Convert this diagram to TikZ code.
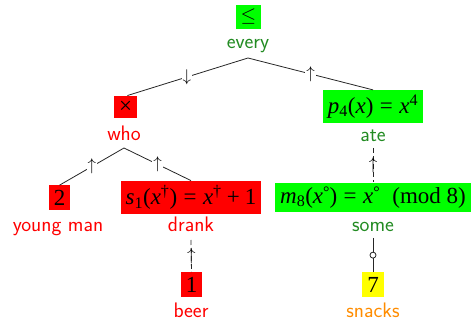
\documentclass[tikz,border=0pt]{standalone}
\usepackage{fix-cm}
\usepackage{fontspec}
\newfontfamily\termfont{Liberation Serif}

% font sizes for the boxed terms, the word labels and the polarity arrows
\newcommand\dgmterm{\termfont\fontsize{23}{27}\selectfont}
\newcommand\dgmrel{\fontsize{20}{24}\selectfont}
\newcommand\dgmword{\sffamily\fontsize{21}{25}\selectfont}
\newcommand\dgmarrow{\fontsize{17}{20}\selectfont}

% helpers for setting the formulas in the term font
\newcommand\vi[1]{\textit{#1}}
\newcommand\lo[1]{\textsubscript{#1}}
\newcommand\hi[1]{\textsuperscript{#1}}
\newcommand\ring{\raisebox{0.22em}{\fontsize{16}{16}\selectfont °}}
\newcommand\relsp{\hspace{0.28em}}
\newcommand\binsp{\hspace{0.22em}}

\definecolor{boxred}{RGB}{255,0,0}
\definecolor{boxgreen}{RGB}{0,255,0}
\definecolor{boxyellow}{RGB}{255,255,0}
\definecolor{wordred}{RGB}{255,0,0}
\definecolor{wordgreen}{RGB}{34,139,34}
\definecolor{wordorange}{RGB}{255,140,0}

\tikzset{
  term/.style={inner xsep=5pt, inner ysep=4.5pt, minimum height=23pt, font=\dgmterm},
  word/.style={anchor=base, inner sep=0pt, font=\dgmword},
  link/.style={draw=black!85, line width=0.8pt},
  polarity/.style={fill=white, inner sep=1pt, font=\dgmarrow},
  overlay arrow/.style={inner sep=0pt, font=\dgmarrow},
  hollow/.style={circle, draw=black!85, line width=0.8pt, fill=white, inner sep=0pt, minimum size=6pt},
}

\begin{document}
\begin{tikzpicture}[x=1pt, y=-1pt]
\useasboundingbox (0,0) rectangle (471,320);

% terms
\node[term, fill=boxgreen, font=\dgmrel, minimum height=22pt] (root) at (248.5,17) {$\leq$};
\node[term, fill=boxred, minimum height=20pt] (who) at (125.5,107) {×};
\node[term, fill=boxgreen] (ate) at (373,106.5)
  {\vi{p}\lo{4}(\vi{x})\relsp=\relsp\vi{x}\hi{4}};
\node[term, fill=boxred] (yman) at (59.5,197.5) {2};
\node[term, fill=boxred] (drank) at (191,197.5)
  {\vi{s}\lo{1}(\vi{x}\hi{†})\relsp=\relsp\vi{x}\hi{†}\binsp+\binsp1};
\node[term, fill=boxgreen] (some) at (373,197.5)
  {\vi{m}\lo{8}(\vi{x}\ring)\relsp=\relsp\vi{x}\ring\hspace{0.55em}(mod 8)};
\node[term, fill=boxred] (beer) at (191.5,284.5) {1};
\node[term, fill=boxyellow] (snacks) at (373,284.5) {7};

% words
\node[word, text=wordgreen]  (rootW)   at (248,49)  {every};
\node[word, text=wordred]    (whoW)    at (124,141) {who};
\node[word, text=wordgreen]  (ateW)    at (373,142) {ate};
\node[word, text=wordred]    (ymanW)   at (58,232)  {young man};
\node[word, text=wordred]    (drankW)  at (191,232) {drank};
\node[word, text=wordgreen]  (someW)   at (373,232) {some};
\node[word, text=wordred]    (beerW)   at (191,317) {beer};
\node[word, text=wordorange] (snacksW) at (373,317) {snacks};

% attachment points under the words
\coordinate (rootE)  at (248,58);
\coordinate (whoE)   at (124,148);
\coordinate (ateE)   at (373,148);
\coordinate (drankE) at (191,240);
\coordinate (someE)  at (373,238);

% tree edges with polarity marks
\draw[link, shorten >=2pt] (rootE) -- node[polarity] {$\downarrow$} (who.north);
\draw[link] (rootE) -- node[polarity] {$\uparrow$} (ate.north);
\draw[link] (whoE) -- node[polarity] {$\uparrow$} (yman.north);
\draw[link] (whoE) -- node[polarity] {$\uparrow$} (drank.north);

% vertical links
\draw[link, dash pattern=on 5pt off 3pt] (drankE) -- node[overlay arrow] {$\uparrow$} (beer.north);
\draw[link, dash pattern=on 5pt off 3pt] (ateE) -- node[overlay arrow] {$\uparrow$} (some.north);
\draw[link] (someE) -- node[hollow] {} (snacks.north);
\end{tikzpicture}
\end{document}
